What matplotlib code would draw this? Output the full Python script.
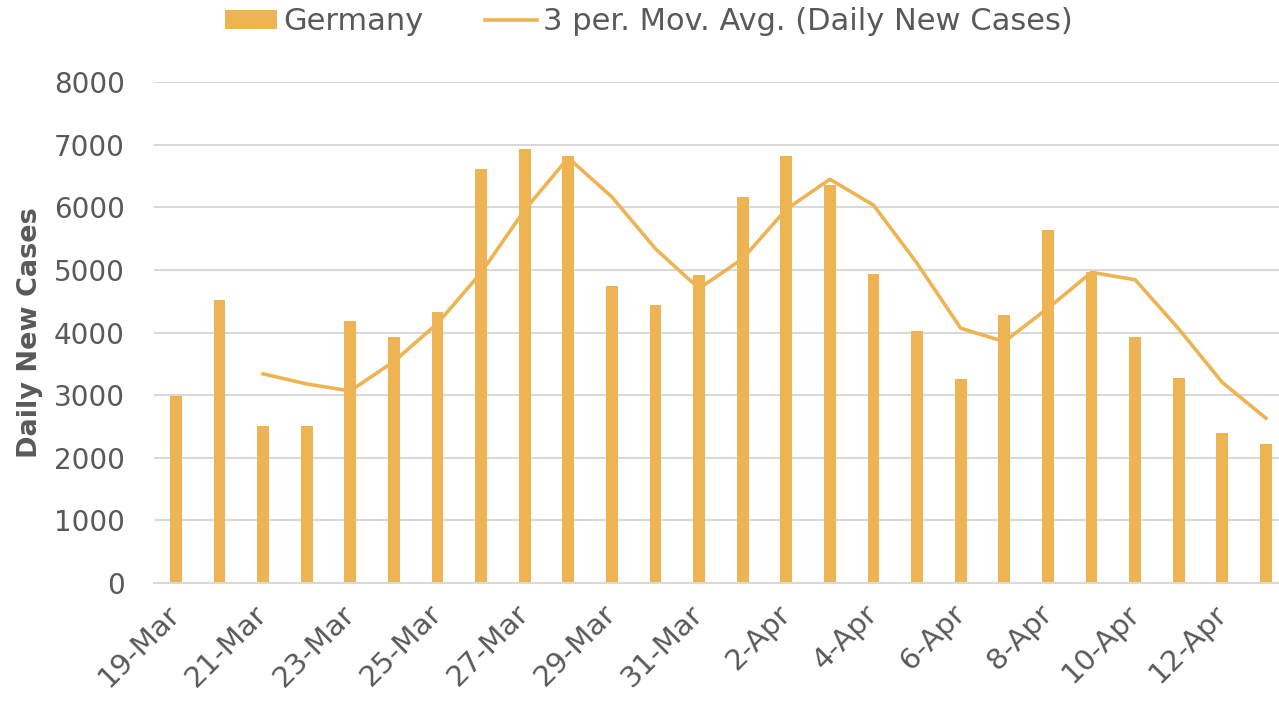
import numpy as np
import matplotlib.pyplot as plt
from matplotlib.patches import Patch
from matplotlib.lines import Line2D

plt.rcParams['font.family'] = ['DejaVu Sans']

dates = ['19-Mar', '20-Mar', '21-Mar', '22-Mar', '23-Mar', '24-Mar', '25-Mar',
         '26-Mar', '27-Mar', '28-Mar', '29-Mar', '30-Mar', '31-Mar',
         '1-Apr', '2-Apr', '3-Apr', '4-Apr', '5-Apr', '6-Apr', '7-Apr',
         '8-Apr', '9-Apr', '10-Apr', '11-Apr', '12-Apr', '13-Apr']
cases = [2990, 4521, 2511, 2505, 4181, 3926, 4324, 6612, 6931, 6824,
         4739, 4447, 4920, 6170, 6814, 6356, 4931, 4027, 3250, 4282,
         5633, 4965, 3931, 3277, 2399, 2218]
# 3 per. moving average (starts on 21-Mar)
mov_avg = [None, None, 3340, 3179, 3066, 3537, 4144, 4954, 5956, 6789,
           6165, 5337, 4702, 5179, 5968, 6447, 6034, 5105, 4069, 3853,
           4388, 4960, 4843, 4058, 3202, 2631]

bar_color = '#EEB453'
text_color = '#595959'
grid_color = '#D9D9D9'

x = np.arange(len(dates))
ma = np.array([np.nan if v is None else v for v in mov_avg], dtype=float)

fig = plt.figure(figsize=(12.79, 7.06), dpi=100)
ax = fig.add_axes([154 / 1279, 1 - 583 / 706, 1 - 154 / 1279, (583 - 82) / 706])

ax.bar(x, cases, width=0.27, color=bar_color, zorder=2)
ax.plot(x, ma, color=bar_color, linewidth=2.6, zorder=3)

ax.set_xlim(-0.5, 25.3)
ax.set_ylim(0, 8000)
ax.set_yticks(np.arange(0, 8001, 1000))
ax.yaxis.grid(True, color=grid_color, linewidth=1.5, zorder=0)
ax.set_axisbelow(True)

ax.set_xticks(x[::2])
ax.set_xticklabels(dates[::2], rotation=45, ha='right', va='center',
                   rotation_mode='anchor', fontsize=21, color=text_color)
ax.tick_params(axis='x', length=0, pad=19)
ax.tick_params(axis='y', length=0, pad=21, labelsize=20, labelcolor=text_color)

for s in ['top', 'right', 'left']:
    ax.spines[s].set_visible(False)
ax.spines['bottom'].set_color(grid_color)
ax.spines['bottom'].set_linewidth(1.5)

fig.text(30 / 1279, 1 - 333 / 706, 'Daily New Cases', rotation=90, fontsize=19.5,
         fontweight='bold', color=text_color, ha='center', va='center')

handles = [Patch(facecolor=bar_color, label='Germany'),
           Line2D([0], [0], color=bar_color, linewidth=2.6,
                  label='3 per. Mov. Avg. (Daily New Cases)')]
fig.legend(handles=handles, loc='center', bbox_to_anchor=(649 / 1279, 1 - 22 / 706),
           ncol=2, frameon=False, fontsize=22, labelcolor=text_color,
           handlelength=1.7, handleheight=0.6, handletextpad=0.2,
           columnspacing=2.0)

fig.savefig('out.png', dpi=100)
